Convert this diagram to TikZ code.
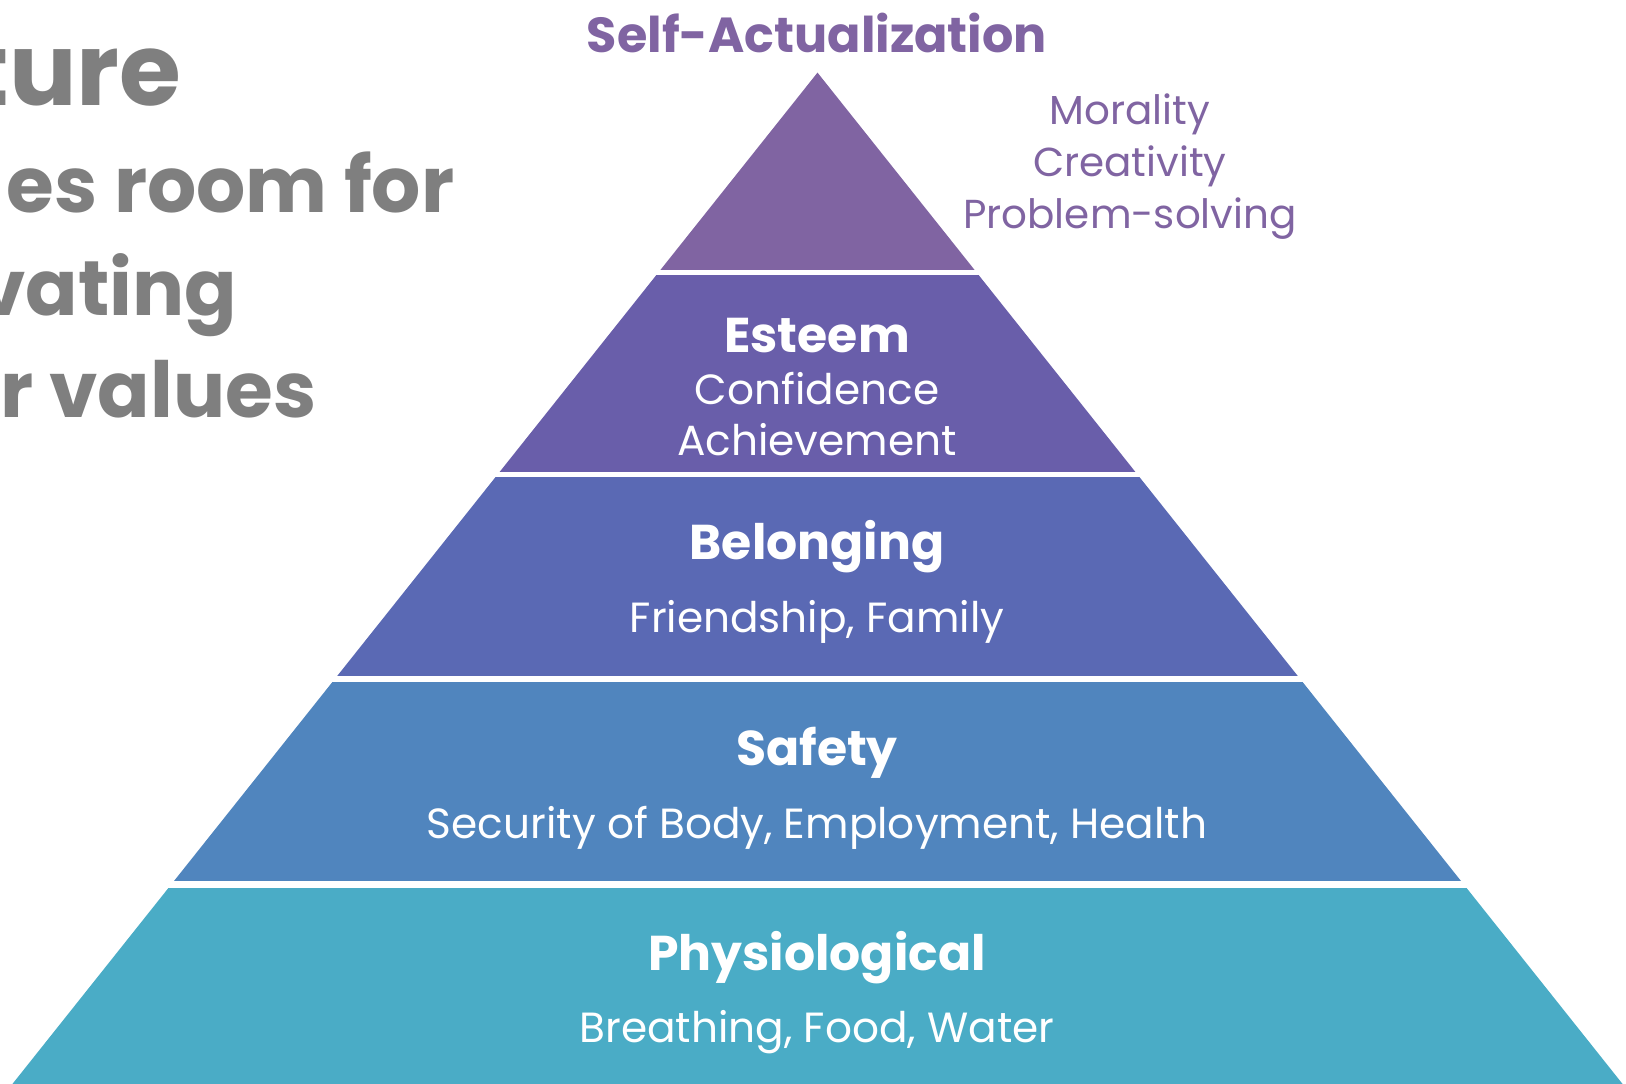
\documentclass[tikz,border=0pt]{standalone}
\usepackage{fontspec}
\setmainfont{Poppins}
\usepackage{tikz}
\usetikzlibrary{positioning}
\definecolor{colortop}      {RGB}{128,100,162}
\definecolor{coloresteem}   {RGB}{105, 94,170}
\definecolor{colorbelong}   {RGB}{ 90,105,180}
\definecolor{colorsafety}   {RGB}{ 80,133,190}
\definecolor{colorphysio}   {RGB}{ 74,172,198}
\definecolor{colorgrey}     {RGB}{127,127,127}

\begin{document}
\begin{tikzpicture}[
    x=0.01cm, y=-0.01cm,
    head/.style={text=white,font={\fontsize{13.9}{17}\selectfont\bfseries},anchor=base},
    body/.style={text=white,font={\fontsize{12}{15}\selectfont},anchor=base},
    side/.style={text=colortop,font={\fontsize{11.5}{14}\selectfont},anchor=base},
    big/.style={text=colorgrey,font={\fontsize{22}{26}\selectfont\bfseries},anchor=base east,inner sep=0pt},
]
    \useasboundingbox (0,0) rectangle (1626,1084);

    % pyramid
    \begin{scope}
        \clip (817.5,72.6) -- (12.4,1084) -- (1622.6,1084) -- cycle;
        \fill[colortop]    (0,0)     rectangle (1626,269.6);
        \fill[coloresteem] (0,274.8) rectangle (1626,471.8);
        \fill[colorbelong] (0,477)   rectangle (1626,676);
        \fill[colorsafety] (0,682)   rectangle (1626,881.4);
        \fill[colorphysio] (0,887.7) rectangle (1626,1084);
    \end{scope}

    % title text on the left
    \node[big,font={\fontsize{28.5}{32}\selectfont\bfseries}] (t1) at (182,105) {ture};
    \node[big] (t2) at (455,212) {es room for};
    \node[big] (t3) at (238,315) {vating};
    \node[big] (t4) at (317,417) {r values};

    % labels
    \node[head,text=colortop,font={\fontsize{14}{17}\selectfont\bfseries}] (self) at (817,52) {Self-Actualization};
    \node[side] (moral) at (1130,124) {Morality};
    \node[side] (creat) at (1130,176) {Creativity};
    \node[side] (probl) at (1130,228) {Problem-solving};

    \node[head] (esteem) at (817,352) {Esteem};
    \node[body] (conf)   at (817,404) {Confidence};
    \node[body] (achv)   at (817,455) {Achievement};

    \node[head] (belong) at (817,559) {Belonging};
    \node[body] (friend) at (817,632) {Friendship, Family};

    \node[head] (safety) at (817,765) {Safety};
    \node[body] (secur)  at (817,838) {Security of Body, Employment, Health};

    \node[head] (physio) at (817,970) {Physiological};
    \node[body] (breath) at (817,1042) {Breathing, Food, Water};

\end{tikzpicture}
\end{document}
